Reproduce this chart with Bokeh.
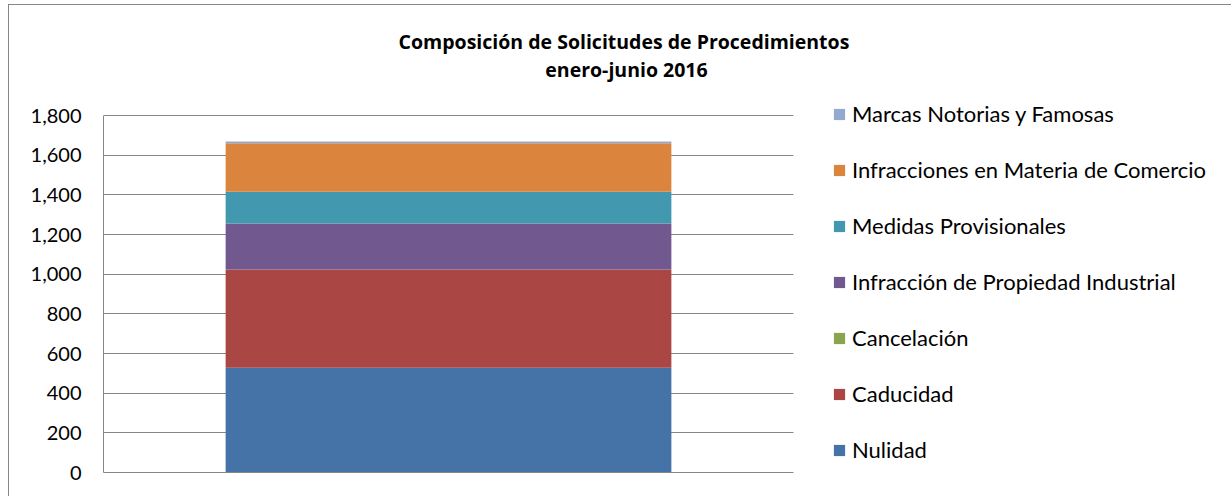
from bokeh.plotting import figure
from bokeh.models import Range1d, NumeralTickFormatter, Legend, LegendItem, Label, ColumnDataSource, FixedTicker
from bokeh.embed import file_html
from bokeh.resources import INLINE

categories = ["enero-junio 2016"]
series = ["Nulidad", "Caducidad", "Cancelación", "Infracción de Propiedad Industrial",
          "Medidas Provisionales", "Infracciones en Materia de Comercio", "Marcas Notorias y Famosas"]
nulidad = [528]
caducidad = [495]
cancelacion = [1]
infraccion_pi = [231]
medidas = [161]
infracciones_comercio = [244]
marcas_notorias = [9]
colors = ["#4572A7", "#AA4643", "#89A54E", "#71588F", "#4198AF", "#DB843D", "#93A9CF"]
y_ticks = [0, 200, 400, 600, 800, 1000, 1200, 1400, 1600, 1800]
title_lines = ["Composición de  Solicitudes de Procedimientos", "enero-junio 2016"]

FONT = "Lato"
GRAY = "#868686"

# layout (pixels)
W, H = 1223, 492
LEFT, BOTTOM = 94, 25
PLOT_W, PLOT_H = 690, 357          # pixel size of the 0..1 x 0..1800 plotting area
FRAME_W, FRAME_H = W - LEFT, H - BOTTOM
Y_MAX = 1800

source = ColumnDataSource(dict(
    x=[0.5],
    cat=categories,
    **{series[0]: nulidad, series[1]: caducidad, series[2]: cancelacion, series[3]: infraccion_pi,
       series[4]: medidas, series[5]: infracciones_comercio, series[6]: marcas_notorias}))

p = figure(width=W, height=H, output_backend="svg", toolbar_location=None,
           x_range=Range1d(0, FRAME_W / PLOT_W), y_range=Range1d(0, Y_MAX * FRAME_H / PLOT_H),
           min_border_left=LEFT, min_border_right=0, min_border_top=0, min_border_bottom=BOTTOM)
p.styles = {"margin-left": "9px", "margin-top": "5px", "box-shadow": f"-1px -1px 0 0 {GRAY}"}

renderers = p.vbar_stack(series, x="x", width=0.646, color=colors, source=source, line_width=0)

p.outline_line_color = None
p.xgrid.visible = False
p.ygrid.grid_line_color = GRAY
p.ygrid.grid_line_width = 1
if "cross_bounds" in p.ygrid[0].properties():
    p.ygrid.cross_bounds = (0, 1)
p.ygrid.bounds = (0, Y_MAX)
p.yaxis.bounds = (0, Y_MAX)
p.yaxis.ticker = FixedTicker(ticks=y_ticks)
p.yaxis.formatter = NumeralTickFormatter(format="0,0")
p.yaxis.axis_line_color = GRAY
p.yaxis.major_tick_line_color = None
p.yaxis.major_tick_out = 0
p.yaxis.major_tick_in = 0
p.yaxis.minor_tick_line_color = None
p.yaxis.major_label_standoff = 22
p.yaxis.major_label_text_font = FONT
p.yaxis.major_label_text_font_size = "20px"
p.yaxis.major_label_text_color = "#000000"
p.xaxis.bounds = (0, 1)
p.xaxis.axis_line_color = GRAY
p.xaxis.major_tick_line_color = None
p.xaxis.minor_tick_line_color = None
p.xaxis.major_label_text_font_size = "0px"
p.xaxis.ticker = FixedTicker(ticks=[])

items = [LegendItem(label=s, renderers=[r]) for s, r in zip(series, renderers)][::-1]
legend = Legend(items=items, location=(729, 9), orientation="vertical", ncols=1,
                glyph_width=14, glyph_height=14, label_height=27, spacing=29,
                label_standoff=6, padding=0, margin=0,
                label_text_font=FONT, label_text_font_size="22px", label_text_color="#000000",
                label_text_baseline="middle",
                border_line_color=None, background_fill_alpha=0)
p.add_layout(legend, "center")

for line, ypos in zip(title_lines, [431, 403]):
    p.add_layout(Label(text=line, x=523, y=ypos, x_units="screen", y_units="screen",
                       text_align="center", text_baseline="middle",
                       text_font="Open Sans", text_font_size="19.5px", text_font_style="bold",
                       text_color="#000000"))

open("out.html", "w").write(file_html(p, INLINE))
